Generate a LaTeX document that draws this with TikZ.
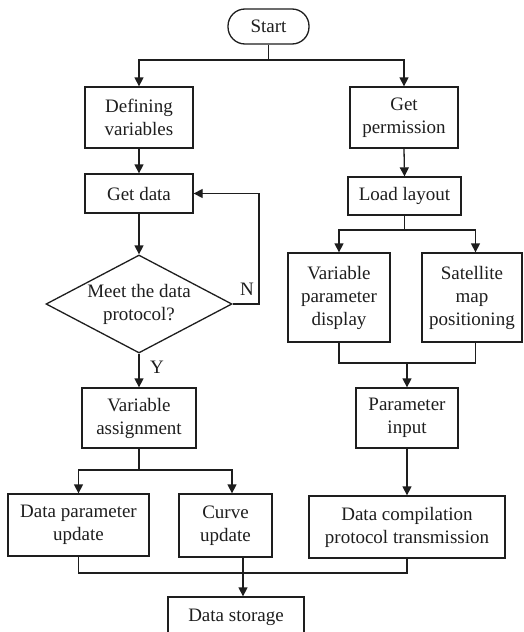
\documentclass[tikz,border=0pt]{standalone}
\usepackage{fontspec}
\setmainfont{Liberation Serif}
\usetikzlibrary{shapes.geometric,arrows.meta}
\definecolor{ink}{RGB}{30,30,30}
\begin{document}
\begin{tikzpicture}[x=1pt,y=-1pt,
  every node/.style={font=\fontsize{19}{23}\selectfont, text=ink, align=center},
  box/.style={draw=ink, line width=1.3pt, rectangle, inner sep=0pt},
  term/.style={draw=ink, line width=1.3pt, rectangle, rounded corners=17pt, inner sep=0pt, minimum width=81pt, minimum height=35pt},
  dec/.style={draw=ink, line width=1.3pt, diamond, inner sep=0pt, shape aspect=1.9, minimum width=186pt, minimum height=98pt},
  conn/.style={draw=ink, line width=1.3pt},
  arr/.style={conn, -{Triangle[length=9pt,width=9pt]}},
  lbl/.style={inner sep=0pt}
]
\useasboundingbox (0,0) rectangle (523,632);
\fill[white] (0,0) rectangle (523,632);

\node[term] (start) at (268.5,26.5) {Start};
\node[box, minimum width=108pt, minimum height=61pt] (defv) at (139,117.5) {Defining\\variables};
\node[box, minimum width=108pt, minimum height=61pt] (perm) at (404,117.5) {Get\\permission};
\node[box, minimum width=108pt, minimum height=39pt] (getdata) at (139,193.5) {Get data};
\node[box, minimum width=113pt, minimum height=38pt] (load) at (404.5,196) {Load layout};
\node[dec] (dia) at (139,304) {Meet the data\\protocol?};
\node[box, minimum width=102pt, minimum height=89pt] (vpd) at (339,297.5) {Variable\\parameter\\display};
\node[box, minimum width=100pt, minimum height=89pt] (smp) at (472,297.5) {Satellite\\map\\positioning};
\node[box, minimum width=114pt, minimum height=60pt] (vas) at (139,418) {Variable\\assignment};
\node[box, minimum width=102pt, minimum height=60pt] (pin) at (407,418) {Parameter\\input};
\node[box, minimum width=141pt, minimum height=62pt] (dpu) at (78.5,525) {Data parameter\\update};
\node[box, minimum width=93pt, minimum height=63pt] (cu) at (225.5,525.5) {Curve\\update};
\node[box, minimum width=196pt, minimum height=62pt] (dcp) at (407,527) {Data compilation\\protocol transmission};
\node[box, minimum width=136pt, minimum height=40pt] (ds) at (236,617) {Data storage};

\node[lbl] (nlab) at (247,289) {N};
\node[lbl] (ylab) at (157,367) {Y};

\coordinate (j1) at (268.5,60);
\coordinate (loopc) at (259,304);
\coordinate (j2) at (139,470);
\coordinate (j3) at (404.5,230);
\coordinate (m1) at (407,363);
\coordinate (m2) at (243,573);

\draw[conn] (start.south) -- (j1);
\draw[arr] (j1) -| (defv.north);
\draw[arr] (j1) -| (perm.north);
\draw[arr] (defv.south) -- (getdata.north);
\draw[arr] (getdata.south) -- (dia.north);
\draw[arr] (dia.east) -- (loopc) |- (getdata.east);
\draw[arr] (dia.south) -- (vas.north);
\draw[conn] (vas.south) -- (j2);
\draw[arr] (j2) -| (dpu.north);
\draw[arr] (j2) -| ([xshift=6.5pt]cu.north);
\draw[arr] (perm.south) -- (load.north);
\draw[conn] (load.south) -- (j3);
\draw[arr] (j3) -| (vpd.north);
\draw[arr] (j3) -| ([xshift=3.5pt]smp.north);
\draw[conn] (vpd.south) |- (m1);
\draw[conn] ([xshift=3.5pt]smp.south) |- (m1);
\draw[arr] (m1) -- (pin.north);
\draw[arr] (pin.south) -- (dcp.north);
\draw[conn] (dpu.south) |- (m2);
\draw[conn] (dcp.south) |- (m2);
\draw[conn] ([xshift=17.5pt]cu.south) -- (m2);
\draw[arr] (m2) -- (m2 |- ds.north);
\end{tikzpicture}
\end{document}
